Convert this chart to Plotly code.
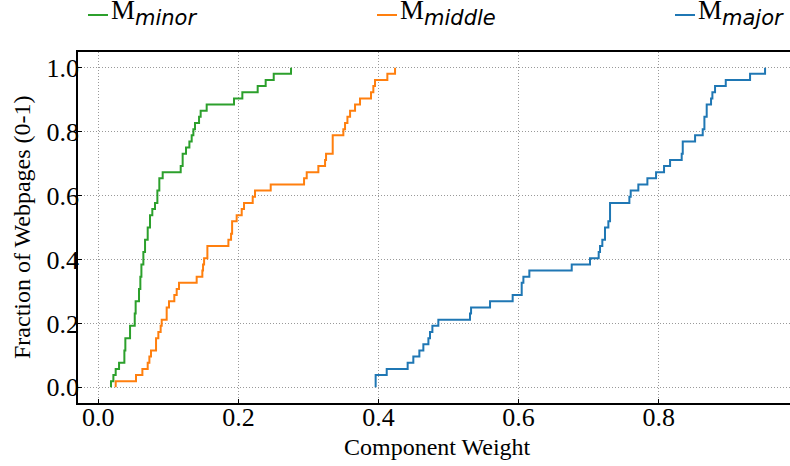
import plotly.graph_objects as go

# Empirical CDF of component weights over 52 webpages.
# Each list gives the weights at which the curve jumps and the cumulative
# number of webpages reached at that weight.
N_PAGES = 52

minor_w = [0.0181, 0.0215, 0.0248, 0.0296, 0.0372, 0.0386, 0.0453, 0.0520, 0.0533,
           0.0581, 0.0600, 0.0615, 0.0643, 0.0667, 0.0705, 0.0738, 0.0771, 0.0809,
           0.0843, 0.0871, 0.0919, 0.1176, 0.1204, 0.1252, 0.1300, 0.1333, 0.1357,
           0.1380, 0.1438, 0.1461, 0.1547, 0.1937, 0.2056, 0.2275, 0.2389, 0.2504,
           0.2751]
minor_cum = [1, 2, 3, 4, 6, 8, 10, 12, 14, 16, 18, 20, 22, 24, 26, 28, 29, 30, 32, 34,
             35, 36, 38, 39, 40, 41, 42, 43, 44, 45, 46, 47, 48, 49, 50, 51, 52]

middle_w = [0.0248, 0.0538, 0.0629, 0.0705, 0.0729, 0.0752, 0.0824, 0.0857, 0.0890,
            0.0905, 0.0976, 0.1009, 0.1085, 0.1119, 0.1152, 0.1404, 0.1485, 0.1495,
            0.1510, 0.1557, 0.1857, 0.1895, 0.1910, 0.1975, 0.2047, 0.2080, 0.2204,
            0.2237, 0.2461, 0.2937, 0.2975, 0.3141, 0.3237, 0.3251, 0.3346, 0.3498,
            0.3522, 0.3556, 0.3594, 0.3665, 0.3736, 0.3893, 0.3926, 0.3950, 0.4126,
            0.4236]
middle_cum = [1, 2, 3, 4, 5, 6, 8, 9, 10, 11, 13, 14, 15, 16, 17, 18, 19, 20, 21, 23,
              24, 25, 27, 28, 29, 30, 31, 32, 33, 34, 35, 36, 37, 38, 41, 42, 43, 44,
              45, 46, 47, 48, 49, 50, 51, 52]

major_w = [0.3959, 0.4117, 0.4416, 0.4497, 0.4583, 0.4640, 0.4712, 0.4735, 0.4769,
           0.4854, 0.5306, 0.5321, 0.5592, 0.5915, 0.6044, 0.6068, 0.6153, 0.6758,
           0.7019, 0.7143, 0.7162, 0.7195, 0.7233, 0.7281, 0.7305, 0.7581, 0.7600,
           0.7709, 0.7838, 0.7962, 0.8076, 0.8162, 0.8328, 0.8343, 0.8519, 0.8628,
           0.8652, 0.8685, 0.8747, 0.8766, 0.8804, 0.8957, 0.9304, 0.9518]
major_cum = [2, 3, 4, 5, 6, 7, 8, 9, 10, 11, 12, 13, 14, 15, 17, 18, 19, 20, 21, 22,
             23, 24, 26, 27, 30, 31, 32, 33, 34, 35, 36, 37, 38, 40, 41, 42, 44, 46,
             47, 48, 49, 50, 51, 52]

x_ticks = [0.0, 0.2, 0.4, 0.6, 0.8]
y_ticks = [0.0, 0.2, 0.4, 0.6, 0.8, 1.0]
x_ticktext = ["0.0", "0.2", "0.4", "0.6", "0.8"]
y_ticktext = ["0.0", "0.2", "0.4", "0.6", "0.8", "1.0"]

series = [
    ("minor", minor_w, minor_cum, "#2ca02c"),
    ("middle", middle_w, middle_cum, "#ff7f0e"),
    ("major", major_w, major_cum, "#1f77b4"),
]

W, H = 790, 466
ML, MR, MT, MB = 78, 0, 52, 63
PW, PH = W - ML - MR, H - MT - MB


def px_x(px):
    return (px - ML) / PW


def px_y(py):
    return (H - MB - py) / PH


SERIF = "Liberation Serif"

fig = go.Figure()
for name, w, cum, color in series:
    xs = [w[0]] + list(w)
    ys = [0.0] + [c / N_PAGES for c in cum]
    fig.add_trace(go.Scatter(
        x=xs, y=ys, mode="lines", name="M" + name,
        line=dict(color=color, width=2, shape="hv"),
        showlegend=False, hoverinfo="x+y",
    ))

# legend row across the top
legend_start = {"minor": 88, "middle": 377, "major": 675}
shapes = []
annotations = []
for name, w, cum, color in series:
    x0 = legend_start[name]
    shapes.append(dict(type="line", xref="paper", yref="paper",
                       x0=px_x(x0), x1=px_x(x0 + 20), y0=px_y(15), y1=px_y(15),
                       line=dict(color=color, width=2)))
    annotations.append(dict(
        xref="paper", yref="paper", x=px_x(x0 + 21), y=px_y(13),
        xanchor="left", yanchor="middle", showarrow=False,
        text=("M<sub><span style='font-family:DejaVu Sans;font-size:21px'>"
              "<i>%s</i></span></sub>" % name),
        font=dict(family=SERIF, size=27, color="black"),
    ))

annotations.append(dict(
    xref="paper", yref="paper", x=px_x(22), y=px_y(227),
    xanchor="center", yanchor="middle", showarrow=False, textangle=-90,
    text="Fraction of Webpages (0-1)",
    font=dict(family=SERIF, size=24, color="black"),
))
annotations.append(dict(
    xref="paper", yref="paper", x=px_x(437), y=px_y(447),
    xanchor="center", yanchor="middle", showarrow=False,
    text="Component Weight",
    font=dict(family=SERIF, size=24, color="black"),
))

axis_common = dict(
    ticks="inside", ticklen=4, tickwidth=1, tickcolor="black",
    showline=True, linecolor="black", linewidth=1.5,
    showgrid=True, gridcolor="#999999", griddash="1px,2px", gridwidth=1,
    zeroline=False,
)

fig.update_layout(
    width=W, height=H,
    margin=dict(l=ML, r=MR, t=MT, b=MB),
    paper_bgcolor="white", plot_bgcolor="white",
    font=dict(family=SERIF, size=24, color="black"),
    shapes=shapes, annotations=annotations,
    xaxis=dict(range=[-0.029, 0.9874], tickvals=x_ticks, ticktext=x_ticktext,
               mirror=True, ticklabelstandoff=-10, **axis_common),
    yaxis=dict(range=[-0.049, 1.049], tickvals=y_ticks, ticktext=y_ticktext,
               mirror=False, ticklabelstandoff=-8, **axis_common),
)
fig.update_xaxes(tickfont=dict(family=SERIF, size=26, color="black"))
fig.update_yaxes(tickfont=dict(family=SERIF, size=26, color="black"))

fig.write_html("out.html")
